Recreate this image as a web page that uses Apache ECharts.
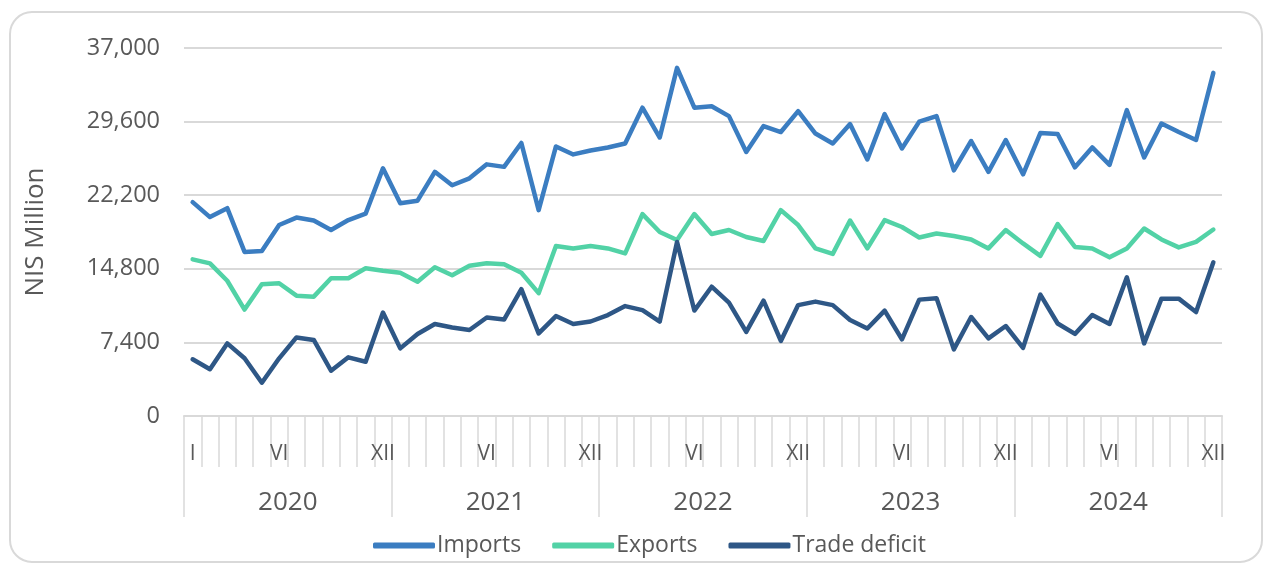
<!DOCTYPE html>
<html>
<head>
<meta charset="utf-8">
<script src="https://cdn.jsdelivr.net/npm/echarts@6/dist/echarts.min.js"></script>
<style>html,body{margin:0;padding:0;background:#fff;}#c{width:1266px;height:565px;}</style>
</head>
<body>
<div id="c"></div>
<script>
const years = ['2020','2021','2022','2023','2024'];
const monthTickLabels = [
  'I','','','','','VI','','','','','','XII',
  '','','','','','VI','','','','','','XII',
  '','','','','','VI','','','','','','XII',
  '','','','','','VI','','','','','','XII',
  '','','','','','VI','','','','','','XII'
];
const imports = [
  21500,20000,20900,16500,16600,19200,19950,19650,18700,19700,20350,24900,
  21400,21650,24550,23200,23900,25300,25050,27450,20700,27100,26300,26700,
  27000,27400,31000,28000,35000,31000,31150,30150,26550,29150,28550,30650,
  28400,27400,29350,25800,30350,26900,29600,30150,24700,27650,24550,27750,
  24300,28450,28350,25000,27000,25250,30750,26000,29400,28550,27750,34500
];
const exports_ = [
  15750,15350,13600,10700,13250,13350,12100,12000,13850,13850,14850,14600,
  14400,13500,14950,14150,15100,15350,15250,14400,12350,17100,16850,17100,
  16850,16350,20300,18500,17700,20300,18300,18700,18000,17600,20700,19200,
  16850,16300,19650,16850,19700,19000,17950,18350,18100,17750,16850,18700,
  17350,16100,19300,17000,16850,15950,16850,18850,17750,16950,17500,18750
];
const deficit = [
  5700,4700,7300,5800,3350,5800,7900,7650,4550,5900,5450,10400,
  6800,8250,9250,8900,8650,9900,9700,12750,8300,10050,9250,9500,
  10150,11050,10650,9500,17500,10600,13000,11400,8450,11600,7550,11150,
  11500,11150,9650,8800,10600,7700,11700,11850,6700,9950,7800,9050,
  6850,12200,9300,8250,10150,9250,13950,7300,11800,11800,10450,15450
];

const chart = echarts.init(document.getElementById('c'), null, {renderer:'canvas'});
const FONT = '"Open Sans", "Liberation Sans", sans-serif';
const TXT = '#595959';
const GRID = '#d9d9d9';
const fmt = v => v.toLocaleString('en-US');

chart.setOption({
  animation: false,
  backgroundColor: '#fff',
  graphic: [{
    type: 'rect', z: -1,
    shape: {x: 10, y: 12, width: 1252, height: 550, r: 22},
    style: {fill: 'none', stroke: GRID, lineWidth: 2}
  }],
  grid: {left: 184, right: 44, top: 48, bottom: 149, containLabel: false},
  legend: {
    left: 368, top: 529,
    icon: 'roundRect', itemWidth: 62, itemHeight: 6, itemGap: 31,
    textStyle: {fontFamily: FONT, fontSize: 23, color: TXT, padding: [0,0,0,-3]},
    data: ['Imports','Exports','Trade deficit']
  },
  xAxis: [{
    type: 'category', data: monthTickLabels, boundaryGap: true,
    axisLine: {show: true, lineStyle: {color: GRID, width: 2}},
    axisTick: {show: true, interval: 0, length: 51, lineStyle: {color: GRID, width: 1.5}},
    axisLabel: {interval: 0, margin: 28, fontFamily: FONT, fontSize: 21, color: TXT},
    splitLine: {show: false}
  }, {
    type: 'category', data: years, boundaryGap: true, position: 'bottom', offset: 0,
    axisLine: {show: false},
    axisTick: {show: true, interval: 0, length: 101, lineStyle: {color: GRID, width: 1.5}},
    axisLabel: {interval: 0, margin: 74, fontFamily: FONT, fontSize: 26, color: TXT},
    splitLine: {show: false}
  }],
  yAxis: {
    type: 'value', min: 0, max: 37000, interval: 7400,
    name: 'NIS Million', nameLocation: 'middle', nameGap: 135, nameRotate: 90,
    nameTextStyle: {fontFamily: FONT, fontSize: 26, color: TXT},
    axisLine: {show: false}, axisTick: {show: false},
    axisLabel: {formatter: fmt, margin: 24, fontFamily: FONT, fontSize: 23.5, color: TXT},
    splitLine: {lineStyle: {color: GRID, width: 2}}
  },
  series: [
    {name: 'Imports', type: 'line', data: imports, symbol: 'none', color: '#3b7dc1',
     lineStyle: {width: 4.5, color: '#3b7dc1', cap: 'round', join: 'round'}},
    {name: 'Exports', type: 'line', data: exports_, symbol: 'none', color: '#52d2a6',
     lineStyle: {width: 4.5, color: '#52d2a6', cap: 'round', join: 'round'}},
    {name: 'Trade deficit', type: 'line', data: deficit, symbol: 'none', color: '#2e5786',
     lineStyle: {width: 4.5, color: '#2e5786', cap: 'round', join: 'round'}}
  ]
});
</script>
</body>
</html>
